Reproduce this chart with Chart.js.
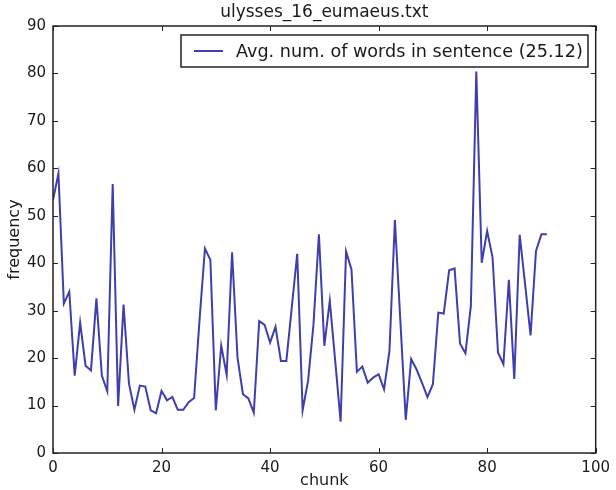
<!DOCTYPE html>
<html>
<head>
<meta charset="utf-8">
<script src="https://cdn.jsdelivr.net/npm/chart.js@4/dist/chart.umd.min.js"></script>
<style>
  html, body { margin: 0; padding: 0; background: #fff; }
  #wrap { width: 616px; height: 490px; }
</style>
</head>
<body>
<div id="wrap"><canvas id="myChart" width="616" height="490"></canvas></div>
<script>
var chartTitle = "ulysses_16_eumaeus.txt";
var seriesLabel = "Avg. num. of words in sentence (25.12)";
var xTitle = "chunk";
var yTitle = "frequency";
var xTicks = [0, 20, 40, 60, 80, 100];
var yTicks = [0, 10, 20, 30, 40, 50, 60, 70, 80, 90];
// one value per chunk, chunk 0 .. 91
var chunkValues = [
    53.3, 58.9, 31.5, 34.0, 16.3, 27.5, 18.4, 17.4, 32.6, 16.3,
    13.0, 56.7, 9.9, 31.3, 14.6, 9.1, 14.2, 14.0, 9.0, 8.4,
    13.1, 11.1, 11.8, 9.1, 9.1, 10.7, 11.6, 28.0, 43.1, 40.7,
    9.0, 22.6, 16.5, 42.3, 20.1, 12.4, 11.5, 8.5, 27.8, 27.0,
    23.3, 26.6, 19.4, 19.4, 30.7, 42.0, 9.0, 15.2, 27.1, 46.1,
    22.6, 32.1, 19.4, 6.6, 42.5, 38.7, 17.1, 18.2, 14.8, 15.9,
    16.6, 13.4, 21.5, 49.1, 28.0, 7.0, 19.8, 17.6, 14.8, 11.8,
    14.5, 29.6, 29.4, 38.5, 38.9, 23.1, 21.0, 31.0, 80.4, 40.1,
    46.8, 41.2, 21.2, 18.7, 36.5, 15.6, 46.0, 35.5, 24.8, 42.6,
    46.1, 46.1
];

var points = [];
for (var i = 0; i < chunkValues.length; i++) {
    points.push({ x: i, y: chunkValues[i] });
}

var lineColor = "#3e3eae";
var textColor = "#1a1a1a";
var fontFamily = "'DejaVu Sans', sans-serif";

// matplotlib look: frame, inward ticks on all four sides, title, axis titles, legend box
var mplDecor = {
    id: "mplDecor",
    afterDraw: function (chart) {
        var ctx = chart.ctx;
        var a = chart.chartArea;
        var xs = chart.scales.x, ys = chart.scales.y;
        ctx.save();
        ctx.strokeStyle = "#222";
        ctx.lineWidth = 1.5;
        ctx.strokeRect(a.left, a.top, a.right - a.left, a.bottom - a.top);
        ctx.lineWidth = 1;
        var t = 5;
        xTicks.forEach(function (v) {
            var px = Math.round(xs.getPixelForValue(v)) + 0.5;
            ctx.beginPath();
            ctx.moveTo(px, a.bottom); ctx.lineTo(px, a.bottom - t);
            ctx.moveTo(px, a.top); ctx.lineTo(px, a.top + t);
            ctx.stroke();
        });
        yTicks.forEach(function (v) {
            var py = Math.round(ys.getPixelForValue(v)) + 0.5;
            ctx.beginPath();
            ctx.moveTo(a.left, py); ctx.lineTo(a.left + t, py);
            ctx.moveTo(a.right, py); ctx.lineTo(a.right - t, py);
            ctx.stroke();
        });

        ctx.fillStyle = textColor;
        ctx.textAlign = "center";
        ctx.textBaseline = "middle";
        ctx.font = "17px " + fontFamily;
        ctx.fillText(chartTitle, (a.left + a.right) / 2, 13);
        ctx.font = "16px " + fontFamily;
        ctx.fillText(xTitle, (a.left + a.right) / 2, 481);
        ctx.save();
        ctx.translate(15, (a.top + a.bottom) / 2);
        ctx.rotate(-Math.PI / 2);
        ctx.fillText(yTitle, 0, 0);
        ctx.restore();

        // legend
        var lx = 181, ly = 35, lw = 407, lh = 32;
        ctx.fillStyle = "#fff";
        ctx.fillRect(lx, ly, lw, lh);
        ctx.strokeStyle = "#222";
        ctx.lineWidth = 1.5;
        ctx.strokeRect(lx, ly, lw, lh);
        ctx.strokeStyle = lineColor;
        ctx.lineWidth = 2;
        ctx.beginPath();
        ctx.moveTo(194, ly + lh / 2);
        ctx.lineTo(223, ly + lh / 2);
        ctx.stroke();
        ctx.fillStyle = textColor;
        ctx.textAlign = "left";
        ctx.font = "17.6px " + fontFamily;
        ctx.fillText(seriesLabel, 236, ly + lh / 2 + 1);
        ctx.restore();
    }
};

var myChart = document.getElementById("myChart").getContext("2d");
var lineChart = new Chart(myChart, {
    type: "line",
    data: {
        datasets: [{
            label: seriesLabel,
            data: points,
            borderColor: lineColor,
            borderWidth: 2,
            pointRadius: 0,
            tension: 0,
            fill: false
        }]
    },
    options: {
        responsive: false,
        animation: false,
        layout: { padding: { top: 26, right: 16, left: 0, bottom: 0 } },
        plugins: {
            legend: { display: false },
            title: { display: false },
            tooltip: { enabled: false }
        },
        scales: {
            x: {
                type: "linear",
                min: 0,
                max: 100,
                afterFit: function (s) { s.height = 37; },
                afterBuildTicks: function (s) { s.ticks = xTicks.map(function (v) { return { value: v }; }); },
                grid: { display: false, drawTicks: false },
                border: { display: false },
                ticks: { color: textColor, padding: 6, font: { family: fontFamily, size: 15 }, maxRotation: 0 }
            },
            y: {
                min: 0,
                max: 90,
                afterFit: function (s) { s.width = 53; },
                afterBuildTicks: function (s) { s.ticks = yTicks.map(function (v) { return { value: v }; }); },
                grid: { display: false, drawTicks: false },
                border: { display: false },
                ticks: { color: textColor, padding: 7, font: { family: fontFamily, size: 15 } }
            }
        }
    },
    plugins: [mplDecor]
});
</script>
</body>
</html>
